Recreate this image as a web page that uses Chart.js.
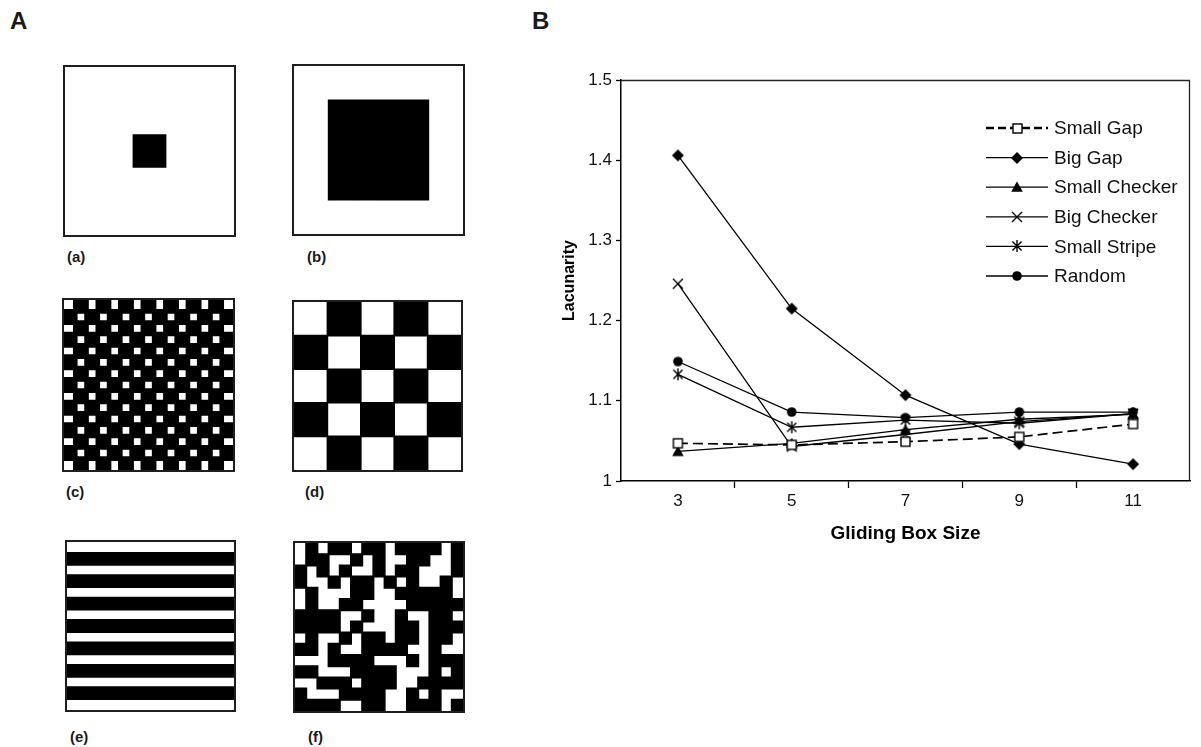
<!DOCTYPE html>
<html>
<head>
<meta charset="utf-8">
<script src="https://cdn.jsdelivr.net/npm/chart.js@4/dist/chart.umd.min.js"></script>
<style>
  html, body { margin: 0; padding: 0; background: #fff; }
  body { width: 1201px; height: 747px; overflow: hidden; position: relative;
         font-family: "Liberation Sans", Arial, sans-serif; }
  canvas { position: absolute; }
  .lbl { position: absolute; font-weight: bold; color: #1a1a1a; white-space: nowrap; }
  .panel { font-size: 24px; line-height: 24px; }
  .sub { font-size: 15px; line-height: 16px; }
</style>
</head>
<body>
<div class="lbl panel" style="left:10px;top:9px">A</div>
<div class="lbl panel" style="left:532px;top:9px">B</div>

<canvas id="patA" width="173" height="172" style="left:63px;top:65px"></canvas>
<canvas id="patB" width="173" height="172" style="left:292px;top:64px"></canvas>
<canvas id="patC" width="173" height="174" style="left:62px;top:298px"></canvas>
<canvas id="patD" width="171" height="172" style="left:292px;top:300px"></canvas>
<canvas id="patE" width="171" height="172" style="left:65px;top:540px"></canvas>
<canvas id="patF" width="172" height="172" style="left:293px;top:541px"></canvas>

<div class="lbl sub" style="left:67px;top:249px">(a)</div>
<div class="lbl sub" style="left:307px;top:249px">(b)</div>
<div class="lbl sub" style="left:66px;top:484px">(c)</div>
<div class="lbl sub" style="left:305px;top:484px">(d)</div>
<div class="lbl sub" style="left:70px;top:729px">(e)</div>
<div class="lbl sub" style="left:308px;top:729px">(f)</div>

<canvas id="lacunarity" width="671" height="500" style="left:530px;top:60px"></canvas>

<script>
// ---- Lacunarity curves ----
const boxSizes     = [3, 5, 7, 9, 11];
const xTickLabels  = ['3', '5', '7', '9', '11'];
const xDividers    = [4, 6, 8, 10];
const yTickValues  = [1, 1.1, 1.2, 1.3, 1.4, 1.5];

const smallGap     = [1.047, 1.045, 1.049, 1.055, 1.071];
const bigGap       = [1.406, 1.215, 1.107, 1.046, 1.021];
const smallChecker = [1.037, 1.047, 1.064, 1.077, 1.083];
const bigChecker   = [1.246, 1.043, 1.058, 1.074, 1.084];
const smallStripe  = [1.133, 1.067, 1.076, 1.072, 1.084];
const randomSet    = [1.149, 1.086, 1.079, 1.086, 1.086];

const seriesNames  = ['Small Gap', 'Big Gap', 'Small Checker', 'Big Checker', 'Small Stripe', 'Random'];
const seriesValues = [smallGap, bigGap, smallChecker, bigChecker, smallStripe, randomSet];

// ---- Binary test patterns ('#' = black cell) ----
const patternA = [
  '...............', '...............', '...............', '...............',
  '...............', '...............', '......###......', '......###......',
  '......###......', '...............', '...............', '...............',
  '...............', '...............', '...............'
];
const patternB = [
  '...............', '...............', '...............', '...#########...',
  '...#########...', '...#########...', '...#########...', '...#########...',
  '...#########...', '...#########...', '...#########...', '...#########...',
  '...............', '...............', '...............'
];
const patternC = [
  '.#.#.#.#.#.#.#.', '#.#.#.#.#.#.#.#', '.#.#.#.#.#.#.#.', '#.#.#.#.#.#.#.#',
  '.#.#.#.#.#.#.#.', '#.#.#.#.#.#.#.#', '.#.#.#.#.#.#.#.', '#.#.#.#.#.#.#.#',
  '.#.#.#.#.#.#.#.', '#.#.#.#.#.#.#.#', '.#.#.#.#.#.#.#.', '#.#.#.#.#.#.#.#',
  '.#.#.#.#.#.#.#.', '#.#.#.#.#.#.#.#', '.#.#.#.#.#.#.#.'
];
const patternD = ['.#.#.', '#.#.#', '.#.#.', '#.#.#', '.#.#.'];
const patternE = [
  '...............', '###############', '...............', '###############',
  '...............', '###############', '...............', '###############',
  '...............', '###############', '...............', '###############',
  '...............', '###############', '...............'
];
const patternF = [
  '.#.##.##.####.#',
  '.##..#.#..##..#',
  '#.#.#..#.##...#',
  '#..#.##.#.#..#.',
  '.#...##..#####.',
  '.#..##....#####',
  '####..#..#..##.',
  '####.#...##.###',
  '.#..#.##.##.##.',
  '##.#..####..#..',
  '...####...#.###',
  '##...####...#.#',
  '..###.###..####',
  '#...####..#.#..',
  '####..##..###.#'
];

// Paints each pattern cell through the chart's own x/y scales.
// "grow" widens black cells slightly so white areas read as rounded blobs.
const cellGridPlugin = {
  id: 'cellGrid',
  beforeDatasetsDraw(chart, args, opts) {
    const { ctx, chartArea: a, scales: { x, y } } = chart;
    const rows = opts.rows;
    const g = opts.grow || 0;
    ctx.save();
    ctx.fillStyle = '#ffffff';
    ctx.fillRect(a.left, a.top, a.right - a.left, a.bottom - a.top);
    ctx.beginPath();
    ctx.rect(a.left, a.top, a.right - a.left, a.bottom - a.top);
    ctx.clip();
    ctx.fillStyle = '#000000';
    ctx.beginPath();
    rows.forEach((row, r) => {
      for (let c = 0; c < row.length; c++) {
        if (row[c] !== '#') continue;
        const x0 = x.getPixelForValue(c), x1 = x.getPixelForValue(c + 1);
        const y0 = y.getPixelForValue(r), y1 = y.getPixelForValue(r + 1);
        ctx.rect(Math.min(x0, x1) - g, Math.min(y0, y1) - g,
                 Math.abs(x1 - x0) + 2 * g, Math.abs(y1 - y0) + 2 * g);
      }
    });
    ctx.fill('nonzero');
    ctx.restore();
    ctx.save();
    ctx.strokeStyle = '#1e1e1e';
    ctx.lineWidth = 2;
    ctx.strokeRect(a.left - 1, a.top - 1, a.right - a.left + 2, a.bottom - a.top + 2);
    ctx.restore();
  }
};

function patternChart(id, rows, grow) {
  const nRows = rows.length, nCols = rows[0].length;
  return new Chart(document.getElementById(id), {
    type: 'scatter',
    data: { datasets: [{ data: [] }] },
    options: {
      responsive: false, animation: false, events: [],
      layout: { padding: 2 },
      plugins: { legend: { display: false }, tooltip: { enabled: false },
                 cellGrid: { rows: rows, grow: grow } },
      scales: {
        x: { type: 'linear', min: 0, max: nCols, display: false },
        y: { type: 'linear', min: 0, max: nRows, reverse: true, display: false }
      }
    },
    plugins: [cellGridPlugin]
  });
}

patternChart('patA', patternA, 0);
patternChart('patB', patternB, 0);
patternChart('patC', patternC, 2.3);
patternChart('patD', patternD, 0.8);
patternChart('patE', patternE, 1.3);
patternChart('patF', patternF, 1.0);

// ---- Marker glyphs used by both the curves and the legend ----
function makeMarker(size, draw) {
  const c = document.createElement('canvas');
  c.width = size; c.height = size;
  const g = c.getContext('2d');
  g.translate(size / 2, size / 2);
  draw(g);
  return c;
}
const markerSquare = makeMarker(13, g => {
  g.fillStyle = '#fff'; g.fillRect(-4.5, -4.5, 9, 9);
  g.strokeStyle = '#000'; g.lineWidth = 1.4; g.strokeRect(-4.5, -4.5, 9, 9);
});
const markerDiamond = makeMarker(14, g => {
  g.fillStyle = '#000'; g.beginPath();
  g.moveTo(0, -6); g.lineTo(6, 0); g.lineTo(0, 6); g.lineTo(-6, 0); g.closePath(); g.fill();
});
const markerTriangle = makeMarker(14, g => {
  g.fillStyle = '#000'; g.beginPath();
  g.moveTo(0, -5.5); g.lineTo(5.8, 4.8); g.lineTo(-5.8, 4.8); g.closePath(); g.fill();
});
const markerCross = makeMarker(14, g => {
  g.strokeStyle = '#000'; g.lineWidth = 1.4; g.beginPath();
  g.moveTo(-5, -5); g.lineTo(5, 5); g.moveTo(5, -5); g.lineTo(-5, 5); g.stroke();
});
const markerStar = makeMarker(14, g => {
  g.strokeStyle = '#000'; g.lineWidth = 1.4; g.beginPath();
  g.moveTo(-4.6, -4.6); g.lineTo(4.6, 4.6); g.moveTo(4.6, -4.6); g.lineTo(-4.6, 4.6);
  g.moveTo(0, -6); g.lineTo(0, 6); g.stroke();
});
const markerCircle = makeMarker(12, g => {
  g.fillStyle = '#000'; g.beginPath(); g.arc(0, 0, 4.8, 0, Math.PI * 2); g.fill();
});
const seriesMarkers = [markerSquare, markerDiamond, markerTriangle, markerCross, markerStar, markerCircle];

// Line + marker legend drawn inside the plot frame
const lineLegendPlugin = {
  id: 'lineLegend',
  afterDatasetsDraw(chart, args, o) {
    const { ctx, chartArea: a } = chart;
    ctx.save();
    chart.data.datasets.forEach((ds, i) => {
      const yy = a.top + o.top + i * o.step;
      ctx.strokeStyle = '#000';
      if (ds.borderDash && ds.borderDash.length) {
        ctx.lineWidth = 2.4; ctx.setLineDash([8, 4]);
      } else {
        ctx.lineWidth = 1.3; ctx.setLineDash([]);
      }
      ctx.beginPath();
      ctx.moveTo(a.left + o.lineStart, yy);
      ctx.lineTo(a.left + o.lineEnd, yy);
      ctx.stroke();
      ctx.setLineDash([]);
      const m = ds.pointStyle;
      const mx = a.left + o.markerX;
      ctx.drawImage(m, Math.round(mx - m.width / 2), Math.round(yy - m.height / 2));
      ctx.fillStyle = '#111';
      ctx.font = o.font;
      ctx.textBaseline = 'middle';
      ctx.textAlign = 'left';
      ctx.fillText(ds.label, a.left + o.textX, yy + 1);
    });
    ctx.restore();
  }
};

// Top and right edges of the plot frame
const frameEdgesPlugin = {
  id: 'frameEdges',
  beforeDatasetsDraw(chart) {
    const { ctx, chartArea: a } = chart;
    ctx.save();
    ctx.strokeStyle = '#222';
    ctx.lineWidth = 1.3;
    ctx.beginPath();
    ctx.moveTo(a.left, a.top + 0.5);
    ctx.lineTo(a.right - 0.5, a.top + 0.5);
    ctx.lineTo(a.right - 0.5, a.bottom);
    ctx.stroke();
    ctx.restore();
  }
};

const tickFont = { family: '"Liberation Sans", Arial, sans-serif', size: 17 };

new Chart(document.getElementById('lacunarity'), {
  type: 'line',
  data: {
    datasets: seriesNames.map((name, i) => ({
      label: name,
      data: boxSizes.map((s, j) => ({ x: s, y: seriesValues[i][j] })),
      borderColor: '#000',
      backgroundColor: '#000',
      borderWidth: i === 0 ? 1.7 : 1.3,
      borderDash: i === 0 ? [10, 5] : [],
      pointStyle: seriesMarkers[i],
      pointRadius: 5,
      tension: 0,
      fill: false,
      clip: false
    }))
  },
  options: {
    responsive: false, animation: false, events: [],
    layout: { padding: { left: 0, right: 11, top: 20, bottom: 0 } },
    plugins: {
      legend: { display: false },
      tooltip: { enabled: false },
      lineLegend: { top: 48, step: 29.6, lineStart: 365, lineEnd: 427, markerX: 396, textX: 433,
                    font: '19px "Liberation Sans", Arial, sans-serif' }
    },
    scales: {
      x: {
        type: 'linear', min: 2, max: 12,
        afterBuildTicks: s => { s.ticks = [...boxSizes, ...xDividers].sort((p, q) => p - q).map(v => ({ value: v })); },
        afterFit: s => { s.height = 79; },
        ticks: {
          autoSkip: false, maxRotation: 0, padding: 3, color: '#111', font: tickFont,
          callback: v => { const k = boxSizes.indexOf(v); return k >= 0 ? xTickLabels[k] : ''; }
        },
        grid: {
          drawOnChartArea: false, drawTicks: true, tickLength: 7, tickWidth: 1.3,
          tickColor: c => (c.tick && xDividers.includes(c.tick.value)) ? '#000' : 'rgba(0,0,0,0)'
        },
        border: { display: true, color: '#000', width: 1.5 },
        title: { display: true, text: 'Gliding Box Size', color: '#000',
                 font: { family: '"Liberation Sans", Arial, sans-serif', size: 19, weight: 'bold' },
                 padding: { top: 0, bottom: 14.6 } }
      },
      y: {
        type: 'linear', min: 1, max: 1.5,
        afterBuildTicks: s => { s.ticks = yTickValues.map(v => ({ value: v })); },
        afterFit: s => { s.width = 91; },
        ticks: { padding: 4, color: '#111', font: tickFont, callback: v => String(v) },
        grid: { drawOnChartArea: false, drawTicks: true, tickLength: 5, tickWidth: 1.3, tickColor: '#000' },
        border: { display: true, color: '#000', width: 1.5 },
        title: { display: true, text: 'Lacunarity', color: '#000',
                 font: { family: '"Liberation Sans", Arial, sans-serif', size: 16, weight: 'bold' },
                 padding: { top: 30, bottom: 0 } }
      }
    }
  },
  plugins: [frameEdgesPlugin, lineLegendPlugin]
});
</script>
</body>
</html>
